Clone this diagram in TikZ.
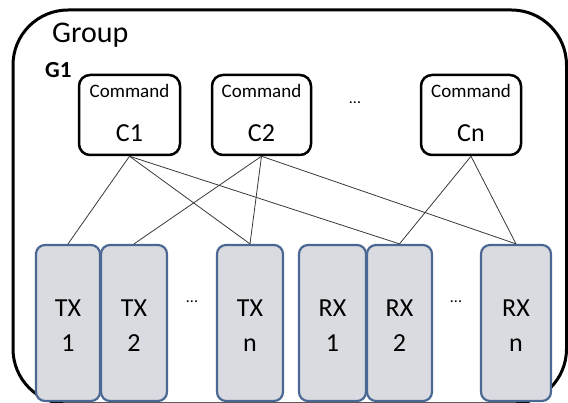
\documentclass[tikz,border=0pt]{standalone}
\usepackage{fontspec}
\setmainfont{Carlito}
\begin{document}
\begin{tikzpicture}[x=1pt,y=-1pt,
  outerbox/.style={draw=black,line width=3pt,rounded corners=55pt},
  cmdbox/.style={draw=black,fill=white,line width=2.5pt,rounded corners=11pt,inner sep=0pt},
  chanbox/.style={draw=chanedge,fill=chanfill,line width=2.2pt,rounded corners=9pt,inner sep=0pt,minimum height=156pt},
  link/.style={draw=linkcol,line width=0.8pt},
  cmdtxt/.style={font=\fontsize{19}{19}\selectfont,anchor=base,inner sep=0pt},
  idtxt/.style={font=\fontsize{26}{26}\selectfont,anchor=base,inner sep=0pt},
  chtxt/.style={font=\fontsize{26}{26}\selectfont,anchor=base,inner sep=0pt},
  dots/.style={font=\fontsize{16}{16}\selectfont,inner sep=0pt}
]
\definecolor{chanedge}{HTML}{4A6893}
\definecolor{chanfill}{HTML}{DADBE0}
\definecolor{linkcol}{HTML}{383838}
\useasboundingbox (0,0) rectangle (568,403);
\begin{scope}
\clip (0,0) rectangle (568,403);
% outer group
\draw[outerbox] (13,10) rectangle (566.5,404);
\node[anchor=base west,inner sep=0pt,font=\fontsize{30}{30}\selectfont] (grp) at (52,43) {Group};
\node[anchor=base west,inner sep=0pt,font=\fontsize{23}{23}\selectfont\bfseries] (g1) at (45,78) {G1};

% command boxes
\node[cmdbox,minimum width=101pt,minimum height=80pt] (c1) at (129.5,115) {};
\node[cmdbox,minimum width=99pt,minimum height=80pt] (c2) at (261.5,115) {};
\node[cmdbox,minimum width=100pt,minimum height=80pt] (cn) at (471,115) {};
\node[cmdtxt] (c1a) at (129.5,98) {Command};
\node[idtxt] (c1b) at (129.5,142) {C1};
\node[cmdtxt] (c2a) at (261.5,98) {Command};
\node[idtxt] (c2b) at (261.5,142) {C2};
\node[cmdtxt] (cna) at (471,98) {Command};
\node[idtxt] (cnb) at (471,142) {Cn};
\node[dots] (cdots) at (355,103) {...};

% channel boxes
\node[chanbox,minimum width=64pt] (tx1) at (68,323) {};
\node[chanbox,minimum width=66pt] (tx2) at (134,323) {};
\node[chanbox,minimum width=66pt] (txn) at (250,323) {};
\node[chanbox,minimum width=67pt] (rx1) at (332.5,323) {};
\node[chanbox,minimum width=65pt] (rx2) at (399.5,323) {};
\node[chanbox,minimum width=70pt] (rxn) at (516,323) {};

% links
\draw[link] (c1.south) -- (tx1.north);
\draw[link] (c1.south) -- (txn.north);
\draw[link] (c1.south) -- (rx2.north);
\draw[link] (c2.south) -- (tx2.north);
\draw[link] (c2.south) -- (txn.north);
\draw[link] (c2.south) -- (rxn.north);
\draw[link] (cn.south) -- (rx2.north);
\draw[link] (cn.south) -- (rxn.north);

% channel labels
\node[chtxt] (tx1a) at (68,317) {TX};
\node[chtxt] (tx1b) at (68,352) {1};
\node[chtxt] (tx2a) at (134,317) {TX};
\node[chtxt] (tx2b) at (134,352) {2};
\node[chtxt] (txna) at (250,317) {TX};
\node[chtxt] (txnb) at (250,352) {n};
\node[chtxt] (rx1a) at (332.5,317) {RX};
\node[chtxt] (rx1b) at (332.5,352) {1};
\node[chtxt] (rx2a) at (399.5,317) {RX};
\node[chtxt] (rx2b) at (399.5,352) {2};
\node[chtxt] (rxna) at (516,317) {RX};
\node[chtxt] (rxnb) at (516,352) {n};
\node[dots] (txdots) at (192,302) {...};
\node[dots] (rxdots) at (456,302) {...};
\end{scope}
\end{tikzpicture}
\end{document}
